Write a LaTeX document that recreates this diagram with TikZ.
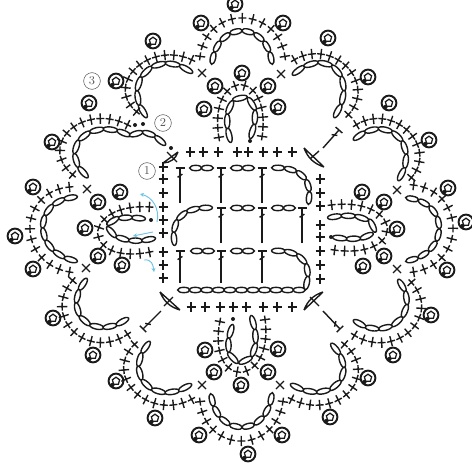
\documentclass[tikz,border=0pt]{standalone}
\usepackage{xcolor}
\usepackage{tikz}
\usetikzlibrary{arrows.meta,decorations.markings,calc}
\definecolor{lcBlack}{HTML}{1A1A1A}
\definecolor{lcBlue}{HTML}{6FC3E4}
\definecolor{lcGray}{HTML}{555555}
\tikzset{
  stitchbase/.style={line width=1.05pt,draw=lcBlack},
  chainline/.style={postaction={decorate,decoration={markings,
    mark=between positions {0.5/#1} and 0.999 step {1/#1} with {
      \pgfmathsetlengthmacro{\ovalrad}{\pgfdecoratedpathlength/#1/2+0.3pt}
      \draw[stitchbase,fill=white] (0,0) ellipse ({\ovalrad} and 2pt);}}}},
  stitchline/.style={postaction={decorate,decoration={markings,
    mark=between positions 0.005 and 0.999 step {0.99/(#1-1)} with {
      \draw[stitchbase] (-4,0)--(4,0) (0,-5.2)--(0,5.2);}}}},
  tstitch/.style={postaction={decorate,decoration={markings,
    mark=at position #1 with {\draw[stitchbase] (-1.6,-2.4)--(1.6,2.4);},
    mark=at position 0.999 with {\draw[stitchbase] (0,-4.5)--(0,4.5);}}},stitchbase},
  tstitch/.default=0.78,
  blueline/.style={draw=lcBlue,line width=0.7pt,-{Stealth[length=3pt,width=3pt]}},
  rowmark/.style={circle,draw=lcGray,text=lcGray,inner sep=0pt,minimum size=12.5pt,font=\small},
  picot/.pic={
    \draw[line width=1.45pt,draw=lcBlack] (0,0) circle (7.4);
    \draw[line width=0.95pt,draw=lcBlack] (-3.6,-1.2)--(0,-3.8)--(3.6,-1.2)--(2.4,3.2)--(-2.4,3.2)--cycle;
    \fill[lcBlack] (-3.6,4) circle (2.2);}
}
% one cubic through start, middle and end; #1 widens the bulge
\newcommand{\archcurve}[5]{%
  \coordinate (archmid) at ($1.33333*(#4)-0.16667*(#3)-0.16667*(#5)$);
  \path[#2] (#3) .. controls ($(archmid)+#1*(#3)-#1*(#5)$) and ($(archmid)-#1*(#3)+#1*(#5)$) .. (#5);}
\newcommand{\archline}[9][0.42]{%
  \archcurve{#1}{chainline=#5}{#2}{#3}{#4}
  \archcurve{#1}{stitchline=#9}{#6}{#7}{#8}}
\begin{document}
\begin{tikzpicture}[x=0.75pt,y=-0.75pt]
\useasboundingbox (0,0) rectangle (472,464);
% center square
\foreach \x in {190,203,218,237,248,263,277,292}
  \draw[stitchbase] (\x-4.5,152)--(\x+4.5,152) (\x,147)--(\x,157);
\foreach \x in {191,205,220,233,246,263,277,292}
  \draw[stitchbase] (\x-4.5,307)--(\x+4.5,307) (\x,302)--(\x,312);
\foreach \y in {167,179,193,207,220,233,252,265,278}
  \draw[stitchbase] (158.5,\y)--(167.5,\y) (163,\y-5)--(163,\y+5);
\foreach \y in {179,193,206,225,237,251,265,279}
  \draw[stitchbase] (315.5,\y)--(324.5,\y) (320,\y-5)--(320,\y+5);
% corners
\draw[stitchbase] (304,148)--(324,167) (310,159)--(319,151) (304,148) to[bend right=25] (324,167);
\draw[stitchbase] (304,310)--(323,292) (310,297)--(319,306) (304,310) to[bend left=25] (323,292);
\draw[stitchbase] (160,292)--(180,310) (164,306)--(173,297) (160,292) to[bend right=25] (180,310);
\draw[stitchbase] (163,163)--(178,152) (167,152)--(177,162) (163,163) to[bend right=35] (178,152);
\foreach \ax/\ay/\bx/\by in {323/148/339/130,323/311/340/329,161/311/143/329}
  \draw[tstitch=0.72] (\ax,\ay)--(\bx,\by);
% grid rows
\foreach \x/\a/\b in {180/203/168,221/203/168,262/203/168,221/243/208,262/243/208,302/243/208,180/283/251,221/283/251,262/283/251}
  \draw[tstitch] (\x,\a)--(\x,\b);
\foreach \x/\y in {190/168,231/168,191/251,231/251,231/208,272/208}
  \path[chainline=2] (\x,\y)--(\x+23,\y);
\path[chainline=5] (272,168) .. controls (303,166) and (313,183) .. (308,204);
\path[chainline=5] (212,208) .. controls (182,206) and (170,222) .. (175,245);
\path[chainline=5] (272,251) .. controls (303,249) and (313,266) .. (305,289);
\path[chainline=11] (178,290)--(305,290);
% outer arches
\archline{212,64}{242,31}{272,64}{8}{200,57}{242,18}{285,57}{13}
\archline{293,75}{336,70}{334,117}{7}{294,60}{347,67}{348,115}{13}
\archline{354,140}{397,136}{398,180}{7}{356,125}{408,131}{411,178}{13}
\archline{406,198}{439,228}{406,261}{8}{413,185}{453,228}{413,272}{13}
\archline{398,280}{398,321}{354,320}{7}{411,282}{410,331}{354,335}{13}
\archline{331,344}{337,384}{291,384}{7}{344,344}{349,392}{291,399}{13}
\archline{211,394}{242,427}{272,393}{8}{200,401}{241,441}{283,401}{13}
\archline{150,342}{146,384}{191,384}{7}{135,344}{135,392}{192,399}{13}
\archline{87,279}{84,320}{128,318}{7}{73,280}{73,331}{128,334}{13}
\archline{77,197}{43,227}{77,261}{8}{70,187}{30,228}{70,272}{13}
\archline{88,177}{82,138}{130,136}{7}{73,175}{70,130}{128,125}{13}
\path[chainline=3] (130,136) .. controls (143,130) and (152,132) .. (165,145);
\archline{147,117}{146,72}{192,73}{7}{137,112}{136,68}{192,60}{13}
% inner arches
\path[chainline=7] (231,142) .. controls (212,84) and (272,84) .. (250,138);
\archcurve{0.75}{stitchline=14}{219,138}{240,85}{262,137}
\archcurve{1.1}{chainline=7}{328,218}{373,227}{333,237}
\archcurve{0.7}{stitchline=14}{331,205}{387,228}{334,250}
\path[chainline=7] (233,325) .. controls (212,375) and (272,375) .. (251,316);
\archcurve{0.75}{stitchline=14}{220,321}{241,372}{265,319}
\archcurve{1.1}{chainline=7}{145,219}{110,230}{155,238}
\archcurve{0.7}{stitchline=14}{150,207}{98,233}{150,252}
% picots
\foreach \x/\y in {201/23,235/4,283/23,328/38,368/77,389/103,429/140,448/188,466/222,447/270,431/315,393/355,368/378,330/417,282/435,248/454,199/435,155/418,116/381,93/355,53/318,33/269,15/236,33/187,52/142,89/103,116/81,153/41,
  204/109,215/86,242/73,268/86,278/107,362/192,384/202,397/229,384/256,363/266,278/349,268/372,241/385,214/372,205/350,122/265,98/256,85/228,98/202,120/192}
  \pic at (\x,\y) {picot};
% cross stitches
\foreach \x/\y in {202/73,281/74,397/190,397/269,280/385,202/385,86/268,87/189}
  \draw[stitchbase] (\x-4,\y-4)--(\x+4,\y+4) (\x-4,\y+4)--(\x+4,\y-4);
% start dots
\foreach \x/\y in {250/141,233/319,331/237,151/220,171/148,135/125,143/124}
  \fill[lcBlack] (\x,\y) circle (2);
% blue arrows
\draw[blueline] (157,222) .. controls (160,208) and (152,197) .. (140,194);
\draw[blueline] (153,232) -- (133,236);
\draw[blueline] (144,260) .. controls (152,259) and (153,265) .. (154,272);
% round numbers
\node[rowmark] (rowone) at (147,171) {1};
\node[rowmark] (rowtwo) at (163,123) {2};
\node[rowmark] (rowthree) at (92,81) {3};
\end{tikzpicture}
\end{document}
